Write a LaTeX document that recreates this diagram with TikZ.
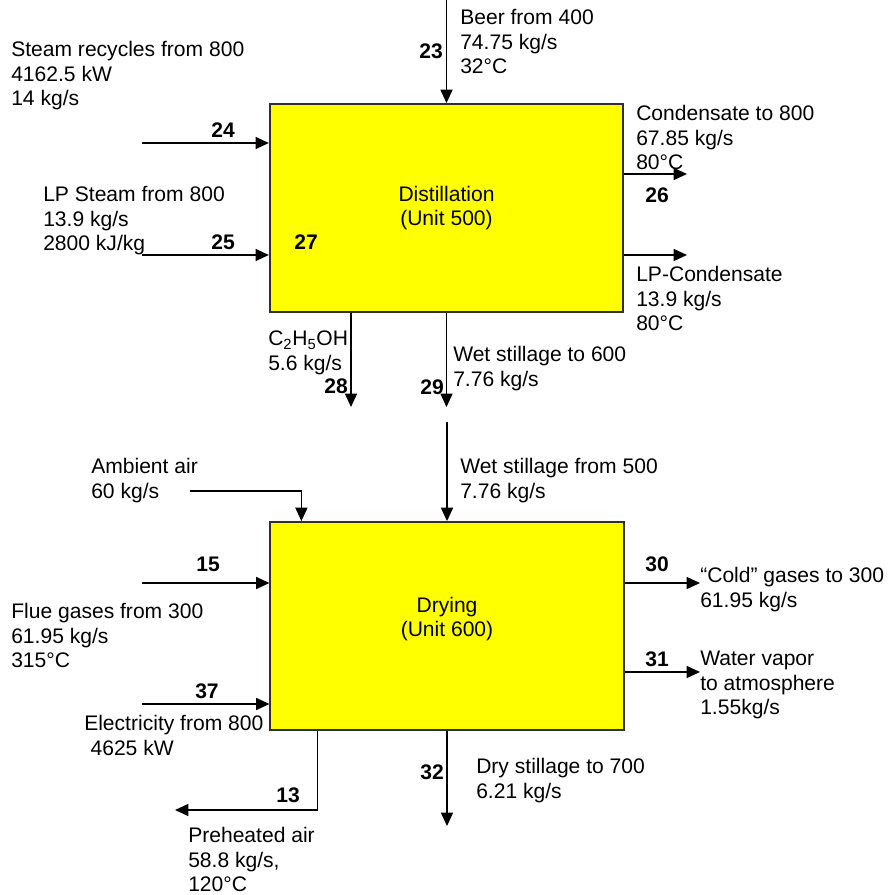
\documentclass[tikz,border=0pt]{standalone}
\usepackage{fontspec}
\setmainfont{Liberation Sans}
\usepackage{xcolor}
\usetikzlibrary{positioning,calc,arrows.meta}
\definecolor{unitYellow}{HTML}{FFFF00}
\definecolor{unitEdge}{HTML}{303030}
\newcommand\flowfont{\fontsize{15.8}{18.4}\selectfont}
\tikzset{
  flow arrow/.style={
    -{Triangle[length=10pt, width=9pt]},
    line width=1.1pt,
  },
  unit box/.style={
    draw=unitEdge, fill=unitYellow, line width=1.4pt,
    minimum width=265pt, minimum height=156pt,
    align=center, font=\flowfont,
  },
  stream text/.style={anchor=north west, align=left, inner sep=0pt, font=\flowfont},
  stream no/.style={inner sep=0pt, font=\flowfont\bfseries},
}

\begin{document}
\begin{tikzpicture}[x=0.75pt, y=-0.75pt]
\useasboundingbox (0,0) rectangle (888,895);

% Units
\node[unit box] (dist) at (446.5,208) {Distillation\\(Unit 500)};
\node[unit box, text depth=14pt] (dry) at (447,626) {Drying\\(Unit 600)};

%% Distillation (Unit 500) ==========================================

% 23: beer in from the top
\coordinate (s23) at (446.5,0);
\draw[flow arrow] (s23) -- (dist.north);
\node[stream no, anchor=east] (n23) at (443,51) {23};
\node[stream text] (t23) at (460,9) {Beer from 400\\74.75 kg/s\\32°C};

% 24 and 25: steam in from the left
\coordinate (s24) at (142,143);
\draw[flow arrow] (s24) -- (s24 -| dist.west);
\node[stream no] (n24) at (223,130) {24};
\node[stream text] (t24) at (11,41) {Steam recycles from 800\\4162.5 kW\\14 kg/s};

\coordinate (s25) at (142,255);
\draw[flow arrow] (s25) -- (s25 -| dist.west);
\node[stream no] (n25) at (223,242) {25};
\node[stream text] (t25) at (43,186) {LP Steam from 800\\13.9 kg/s\\2800 kJ/kg};
\node[stream no] (n27) at (306,242) {27};

% 26 and LP-condensate: out to the right
\coordinate (s26) at (687,174);
\draw[flow arrow] (s26 -| dist.east) -- (s26);
\node[stream no] (n26) at (657,195) {26};
\node[stream text] (t26) at (636,105) {Condensate to 800\\67.85 kg/s\\80°C};

\coordinate (sLP) at (687,255);
\draw[flow arrow] (sLP -| dist.east) -- (sLP);
\node[stream text] (tLP) at (636,266) {LP-Condensate\\13.9 kg/s\\80°C};

% 28 and 29: out at the bottom
\coordinate (s28) at (351,407);
\draw[flow arrow] (s28 |- dist.south) -- (s28);
\node[stream no] (n28) at (336,386) {28};
\node[stream text] (t28) at (268,331) {C\textsubscript{2}H\textsubscript{5}OH\\5.6 kg/s};

\coordinate (s29) at (446.5,407);
\draw[flow arrow] (s29 |- dist.south) -- (s29);
\node[stream no] (n29) at (432,387) {29};
\node[stream text] (t29) at (453,346) {Wet stillage to 600\\7.76 kg/s};

%% Drying (Unit 600) ================================================

% Wet stillage and ambient air in from the top
\coordinate (sWet) at (447,422);
\draw[flow arrow] (sWet) -- (dry.north);
\node[stream text] (tWet) at (460,458) {Wet stillage from 500\\7.76 kg/s};

\coordinate (sAir) at (190,491);
\coordinate (airIn) at ($(dry.north west)+(32,0)$);
\draw[flow arrow] (sAir) -| (airIn);
\node[stream text] (tAir) at (91,458) {Ambient air\\60 kg/s};

% 15 and 37: in from the left
\coordinate (s15) at (142,583);
\draw[flow arrow] (s15) -- (s15 -| dry.west);
\node[stream no] (n15) at (208,564) {15};
\node[stream text] (t15) at (11,603) {Flue gases from 300\\61.95 kg/s\\315°C};

\coordinate (s37) at (142,704);
\draw[flow arrow] (s37) -- (s37 -| dry.west);
\node[stream no] (n37) at (207,691) {37};
\node[stream text] (t37) at (84,715) {Electricity from 800\\\hspace{0.3em}4625 kW};

% 30 and 31: out to the right
\coordinate (s30) at (700,583);
\draw[flow arrow] (s30 -| dry.east) -- (s30);
\node[stream no] (n30) at (657,564) {30};
\node[stream text] (t30) at (700,567) {“Cold” gases to 300\\61.95 kg/s};

\coordinate (s31) at (700,672);
\draw[flow arrow] (s31 -| dry.east) -- (s31);
\node[stream no] (n31) at (657,659) {31};
\node[stream text] (t31) at (700,651) {Water vapor\\to atmosphere\\1.55kg/s};

% 13 and 32: out at the bottom
\coordinate (o13) at ($(dry.south west)+(48,0)$);
\coordinate (s13) at (175,810);
\draw[flow arrow] (o13) |- (s13);
\node[stream no] (n13) at (288,795) {13};
\node[stream text] (t13) at (188,827) {Preheated air\\58.8 kg/s,\\120°C};

\coordinate (s32) at (447,826);
\draw[flow arrow] (s32 |- dry.south) -- (s32);
\node[stream no] (n32) at (432,772) {32};
\node[stream text] (t32) at (476,758) {Dry stillage to 700\\6.21 kg/s};

\end{tikzpicture}
\end{document}
